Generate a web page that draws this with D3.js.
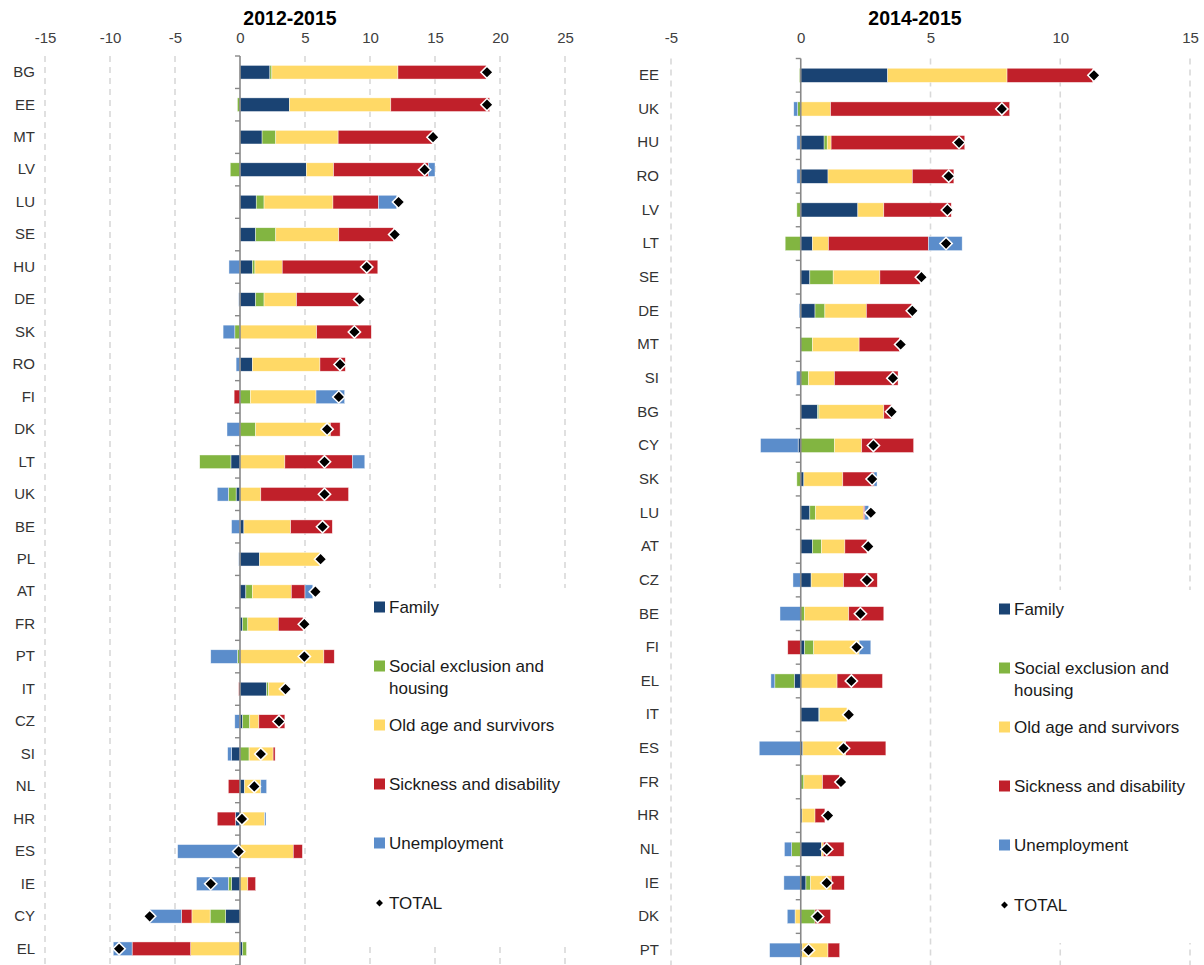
<!DOCTYPE html>
<html>
<head>
<meta charset="utf-8">
<script src="https://cdn.jsdelivr.net/npm/d3@7/dist/d3.min.js"></script>
<style>
  html, body { margin: 0; padding: 0; background: #fff; }
  svg { display: block; font-family: "Liberation Sans", Arial, sans-serif; }
</style>
</head>
<body>
<svg id="chart" width="1204" height="965"></svg>
<script>
// ---------------- DATA ----------------
const seriesNames = ["Family", "Social exclusion and housing", "Old age and survivors", "Sickness and disability", "Unemployment"];
const seriesKeys = ["family", "social", "old", "sick", "unemp"];
const seriesColors = ["#1a4373", "#82b541", "#ffd966", "#c0202a", "#5b8dcb"];
const totalLabel = "TOTAL";

// Panel A: 2012-2015
const titleA = "2012-2015";
const countriesA = ["BG","EE","MT","LV","LU","SE","HU","DE","SK","RO","FI","DK","LT","UK","BE","PL","AT","FR","PT","IT","CZ","SI","NL","HR","ES","IE","CY","EL"];
const familyA = [2.3, 3.8, 1.7, 5.1, 1.25, 1.2, 0.95, 1.2, 0, 0.95, 0, 0, -0.7, -0.3, 0.3, 1.5, 0.45, 0.2, 0, 2.05, 0.2, -0.65, 0.35, -0.35, 0, -0.65, -1.1, 0.2];
const socialA = [0.15, -0.2, 1.05, -0.75, 0.6, 1.55, 0.2, 0.65, -0.4, 0, 0.8, 1.2, -2.4, -0.6, 0, 0, 0.5, 0.4, -0.2, 0.15, 0.55, 0.7, 0, 0, 0, -0.25, -1.2, 0.3];
const oldA    = [9.7, 7.8, 4.8, 2.1, 5.3, 4.85, 2.1, 2.5, 5.9, 5.2, 5.05, 5.75, 3.45, 1.6, 3.6, 4.65, 3.0, 2.35, 6.45, 1.25, 0.7, 1.85, 1.25, 1.9, 4.1, 0.6, -1.4, -3.8];
const sickA   = [6.8, 7.6, 7.3, 7.3, 3.5, 4.2, 7.35, 4.8, 4.2, 1.95, -0.45, 0.75, 5.2, 6.75, 3.2, 0, 1.05, 1.9, 0.8, -0.1, 2.0, 0.15, -0.9, -1.4, 0.7, 0.6, -0.8, -4.5];
const unempA  = [0, 0, 0, 0.5, 1.4, 0, -0.85, -0.1, -0.9, -0.3, 2.2, -1.0, 0.95, -0.85, -0.65, -0.1, 0.6, 0, -2.05, 0, -0.4, -0.3, 0.45, 0.1, -4.8, -2.45, -2.45, -1.45];
const totalA  = [19.0, 19.0, 14.85, 14.2, 12.2, 11.9, 9.75, 9.2, 8.8, 7.7, 7.6, 6.7, 6.5, 6.5, 6.35, 6.2, 5.8, 4.95, 4.95, 3.5, 3.0, 1.6, 1.1, 0.15, -0.1, -2.25, -6.95, -9.3];
const ticksA  = [-15, -10, -5, 0, 5, 10, 15, 20, 25];

// Panel B: 2014-2015
const titleB = "2014-2015";
const countriesB = ["EE","UK","HU","RO","LV","LT","SE","DE","MT","SI","BG","CY","SK","LU","AT","CZ","BE","FI","EL","IT","ES","FR","HR","NL","IE","DK","PT"];
const familyB = [3.35, 0, 0.9, 1.05, 2.2, 0.45, 0.35, 0.55, 0, 0, 0.65, -0.1, 0.12, 0.35, 0.45, 0.4, 0, 0.15, -0.25, 0.7, 0.08, 0, 0.05, 0.8, 0.2, 0, 0.05];
const socialB = [-0.05, -0.12, 0.12, 0, -0.15, -0.6, 0.9, 0.38, 0.45, 0.3, 0.05, 1.3, -0.15, 0.22, 0.35, 0, 0.15, 0.35, -0.75, 0.03, 0, 0.12, 0, -0.35, 0.18, 0.55, 0];
const oldB    = [4.6, 1.15, 0.15, 3.25, 1.0, 0.62, 1.8, 1.6, 1.8, 1.0, 2.5, 1.05, 1.5, 1.85, 0.9, 1.25, 1.7, 1.75, 1.4, 1.05, 1.65, 0.72, 0.5, 0.07, 0.8, -0.22, 1.0];
const sickB   = [3.3, 6.9, 5.15, 1.6, 2.6, 3.85, 1.55, 1.75, 1.55, 2.45, 0.3, 2.0, 1.2, 0.05, 0.85, 1.3, 1.35, -0.5, 1.75, 0, 1.55, 0.65, 0.38, 0.8, 0.5, 0.6, 0.45];
const unempB  = [0, -0.15, -0.15, -0.15, 0, 1.3, 0, -0.06, 0, -0.17, 0, -1.45, 0.12, 0.15, 0, -0.3, -0.8, 0.45, -0.15, 0, -1.6, 0, 0, -0.28, -0.65, -0.3, -1.2];
const totalB  = [11.3, 7.75, 6.1, 5.7, 5.65, 5.6, 4.65, 4.3, 3.85, 3.55, 3.5, 2.8, 2.75, 2.7, 2.6, 2.55, 2.3, 2.15, 1.95, 1.85, 1.65, 1.55, 1.05, 1.0, 1.0, 0.65, 0.3];
const ticksB  = [-5, 0, 5, 10, 15];

// ---------------- DRAW ----------------
const svg = d3.select("#chart");

function buildRows(countries, arrs, totals) {
  return countries.map((c, i) => {
    const o = { country: c, total: totals[i] };
    seriesKeys.forEach((k, j) => { o[k] = arrs[j][i]; });
    return o;
  });
}

function drawPanel(cfg) {
  const g = svg.append("g");
  const rows = buildRows(cfg.countries, cfg.arrs, cfg.totals);

  const x = d3.scaleLinear().domain(cfg.domain).range(cfg.xRange);
  const y = d3.scaleBand().domain(cfg.countries).range(cfg.yRange)
              .paddingInner(0.58).paddingOuter(0.29);
  const step = y.step();

  // gridlines
  g.append("g").selectAll("line").data(cfg.ticks.filter(t => t !== 0)).join("line")
    .attr("x1", d => x(d)).attr("x2", d => x(d))
    .attr("y1", cfg.yRange[0]).attr("y2", cfg.yRange[1])
    .attr("stroke", "#d9d9d9").attr("stroke-width", 1.6)
    .attr("stroke-dasharray", "6,5");

  // legend background box hides gridlines
  g.append("rect").attr("x", cfg.legendBox[0]).attr("y", cfg.legendBox[1])
    .attr("width", cfg.legendBox[2]).attr("height", cfg.legendBox[3]).attr("fill", "#fff");

  // title
  g.append("text").attr("x", cfg.titleX).attr("y", 25).attr("text-anchor", "middle")
    .attr("font-weight", "bold").attr("font-size", 19.5).attr("fill", "#000")
    .text(cfg.title);

  // top tick labels
  const ax = g.append("g").attr("transform", "translate(0,43)")
    .call(d3.axisTop(x).tickValues(cfg.ticks).tickSize(0).tickPadding(0).tickFormat(d => String(d)));
  ax.select(".domain").remove();
  ax.selectAll("text").attr("font-size", 15).attr("fill", "#404040")
    .attr("font-family", "\"Liberation Sans\", Arial, sans-serif");

  // category labels
  const ay = g.append("g").attr("transform", `translate(${cfg.labelX},0)`)
    .call(d3.axisLeft(y).tickSize(0).tickPadding(0));
  ay.select(".domain").remove();
  ay.selectAll("text").attr("font-size", 15).attr("fill", "#333")
    .attr("font-family", "\"Liberation Sans\", Arial, sans-serif");

  // stacked bars
  const stack = d3.stack().keys(seriesKeys).offset(d3.stackOffsetDiverging);
  const layers = stack(rows);
  g.append("g").selectAll("g").data(layers).join("g")
    .attr("fill", (d, i) => seriesColors[i])
    .selectAll("rect").data(d => d.filter(s => s[1] !== s[0])).join("rect")
    .attr("x", d => x(Math.min(d[0], d[1])))
    .attr("width", d => Math.abs(x(d[1]) - x(d[0])))
    .attr("y", d => y(d.data.country))
    .attr("height", y.bandwidth())
    .attr("stroke", "#fff").attr("stroke-width", 0.6).attr("stroke-opacity", 0.7);

  // zero axis line with ticks at category boundaries
  const x0 = x(0);
  g.append("line").attr("x1", x0).attr("x2", x0)
    .attr("y1", cfg.yRange[0]).attr("y2", cfg.yRange[1])
    .attr("stroke", "#888").attr("stroke-width", 1.6);
  const bounds = d3.range(cfg.countries.length + 1).map(i => cfg.yRange[0] + i * step);
  g.append("g").selectAll("line").data(bounds).join("line")
    .attr("x1", x0 - 5).attr("x2", x0).attr("y1", d => d).attr("y2", d => d)
    .attr("stroke", "#888").attr("stroke-width", 1.4);

  // totals (diamonds)
  const sym = d3.symbol().type(d3.symbolSquare).size(76);
  g.append("g").selectAll("path").data(rows).join("path")
    .attr("d", sym)
    .attr("transform", d => `translate(${x(d.total)},${y(d.country) + y.bandwidth() / 2}) rotate(45)`)
    .attr("fill", "#000").attr("stroke", "#fff").attr("stroke-width", 1.5);

  // legend
  const lg = g.append("g");
  const lx = cfg.legendX;
  seriesNames.forEach((name, i) => {
    const cy = cfg.legendY[i];
    lg.append("rect").attr("x", lx).attr("y", cy - 5.5).attr("width", 11).attr("height", 11)
      .attr("fill", seriesColors[i]);
    const lines = name === "Social exclusion and housing" ? ["Social exclusion and", "housing"] : [name];
    lines.forEach((ln, k) => {
      lg.append("text").attr("x", lx + 15).attr("y", cy + 6 + k * 22)
        .attr("font-size", 17).attr("fill", "#1a1a1a").text(ln);
    });
  });
  const ty = cfg.legendY[5];
  lg.append("path").attr("d", d3.symbol().type(d3.symbolSquare).size(24))
    .attr("transform", `translate(${lx + 5.5},${ty}) rotate(45)`).attr("fill", "#000");
  lg.append("text").attr("x", lx + 15).attr("y", ty + 6)
    .attr("font-size", 17).attr("fill", "#1a1a1a").text(totalLabel);
}

drawPanel({
  title: titleA, titleX: 290,
  countries: countriesA,
  arrs: [familyA, socialA, oldA, sickA, unempA],
  totals: totalA,
  domain: [-15, 25], xRange: [45, 565], ticks: ticksA,
  yRange: [56, 965], labelX: 35,
  legendBox: [352, 588, 248, 355],
  legendX: 374, legendY: [607, 666, 725, 784, 843, 903]
});

drawPanel({
  title: titleB, titleX: 915,
  countries: countriesB,
  arrs: [familyB, socialB, oldB, sickB, unempB],
  totals: totalB,
  domain: [-5, 15], xRange: [671, 1190], ticks: ticksB,
  yRange: [58.5, 967], labelX: 659,
  legendBox: [990, 590, 214, 353],
  legendX: 999, legendY: [609, 668, 727, 786, 845, 905]
});
</script>
</body>
</html>
